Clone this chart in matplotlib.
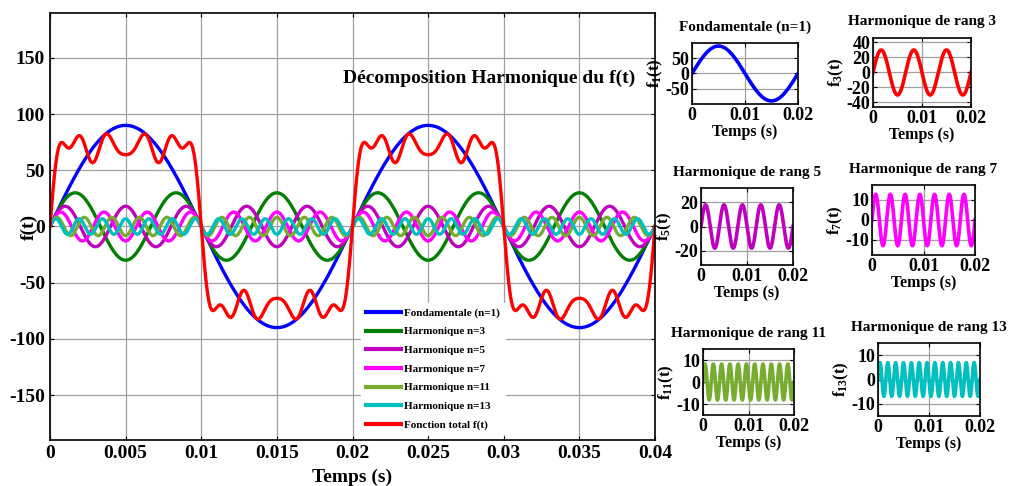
import numpy as np
import matplotlib
matplotlib.use("Agg")
import matplotlib.pyplot as plt

plt.rcParams['font.family'] = ['Liberation Serif', 'DejaVu Serif']
plt.rcParams['font.weight'] = 'bold'
plt.rcParams['axes.unicode_minus'] = False
plt.rcParams['mathtext.fontset'] = 'custom'
plt.rcParams['mathtext.rm'] = 'Liberation Serif:bold'
plt.rcParams['mathtext.it'] = 'Liberation Serif:bold'
plt.rcParams['mathtext.bf'] = 'Liberation Serif:bold'

# ---- data ----
freq = 50.0                      # Hz
orders = [1, 3, 5, 7, 11, 13]
amplitudes = [90.0, 30.0, 18.0, 12.86, 8.18, 6.92]
main_colors = ['#0000ff', '#007f00', '#bf00bf', '#ff00ff', '#77ac30', '#00bfbf']
legend_labels = ['Fondamentale (n=1)', 'Harmonique n=3', 'Harmonique n=5',
                 'Harmonique n=7', 'Harmonique n=11', 'Harmonique n=13']
total_label = 'Fonction total f(t)'
main_xticks = [0, 0.005, 0.01, 0.015, 0.02, 0.025, 0.03, 0.035, 0.04]
main_xticklabels = ['0', '0.005', '0.01', '0.015', '0.02', '0.025', '0.03', '0.035', '0.04']
main_yticks = [-150, -100, -50, 0, 50, 100, 150]

sub_titles = ['Fondamentale (n=1)', 'Harmonique de rang 3', 'Harmonique de rang 5',
              'Harmonique de rang 7', 'Harmonique de rang 11', 'Harmonique de rang 13']
sub_colors = ['#0000ff', '#ff0000', '#bf00bf', '#ff00ff', '#77ac30', '#00bfbf']
sub_ylims = [100, 46, 32, 17.5, 15, 15]
sub_yticks = [[-50, 0, 50], [-40, -20, 0, 20, 40], [-20, 0, 20], [-10, 0, 10],
              [-10, 0, 10], [-10, 0, 10]]
sub_xticks = [0, 0.01, 0.02]
sub_xticklabels = ['0', '0.01', '0.02']

t = np.linspace(0, 0.04, 4001)
harmonics = [a * np.sin(2 * np.pi * n * freq * t) for n, a in zip(orders, amplitudes)]
total = np.sum(harmonics, axis=0)

W, H = 1010, 486
fig = plt.figure(figsize=(W / 100, H / 100), dpi=100)


def ax_px(l, tp, r, b):
    return fig.add_axes([l / W, 1 - b / H, (r - l) / W, (b - tp) / H])


def style(ax, fs):
    ax.tick_params(direction='in', top=True, right=True, labelsize=fs, length=3, width=0.8)
    for s in ax.spines.values():
        s.set_linewidth(1.2)
    ax.grid(True, color='#a0a0a0', linewidth=0.9)
    ax.set_axisbelow(True)


# ---- main axes ----
ax = ax_px(50, 13, 655, 440)
for h, c, lab in zip(harmonics, main_colors, legend_labels):
    ax.plot(t, h, color=c, lw=2.4, label=lab)
ax.plot(t, total, color='#ff0000', lw=2.4, label=total_label)
ax.set_xlim(0, 0.04)
ax.set_ylim(-190, 190)
ax.set_xticks(main_xticks)
ax.set_xticklabels(main_xticklabels)
ax.set_yticks(main_yticks)
style(ax, 14)
ax.set_xlabel('Temps (s)', fontsize=14, fontweight='bold', labelpad=5)
ax.set_ylabel('f(t)', fontsize=14, fontweight='bold')
ax.yaxis.set_label_coords(-0.02, 0.5)
ax.text(0.484, 0.848, 'Décomposition Harmonique du f(t)', transform=ax.transAxes,
        fontsize=14, fontweight='bold', va='center', ha='left')
leg = ax.legend(loc='lower left', bbox_to_anchor=(0.505, 0.0), fontsize=8,
                frameon=True, fancybox=False, edgecolor='white', framealpha=1,
                handlelength=3.2, labelspacing=0.8, borderpad=0.4, handletextpad=0.3)
for line in leg.get_lines():
    line.set_linewidth(3)

# ---- subplots ----
boxes = [(692, 43, 798, 104), (873, 38, 971, 107),
         (701, 188, 793, 265), (872, 185, 975, 255),
         (703, 349, 794, 415), (878, 343, 980, 416)]
for i, (box, h, c, ttl, yl, yt) in enumerate(zip(boxes, harmonics, sub_colors, sub_titles,
                                               sub_ylims, sub_yticks)):
    a = ax_px(*box)
    a.plot(t[t <= 0.02], h[t <= 0.02], color=c, lw=2.6)
    a.set_xlim(0, 0.02)
    a.set_ylim(-yl, yl)
    a.set_xticks(sub_xticks)
    a.set_xticklabels(sub_xticklabels)
    a.set_yticks(yt)
    style(a, 13)
    a.tick_params(pad=2)
    a.set_title(ttl, fontsize=11, fontweight='bold', pad=9)
    a.set_xlabel('Temps (s)', fontsize=11.5, fontweight='bold', labelpad=0)
    a.set_ylabel('f$_{%d}$(t)' % orders[i], fontsize=12, fontweight='bold', labelpad=0)

fig.savefig('out.png', dpi=100)
